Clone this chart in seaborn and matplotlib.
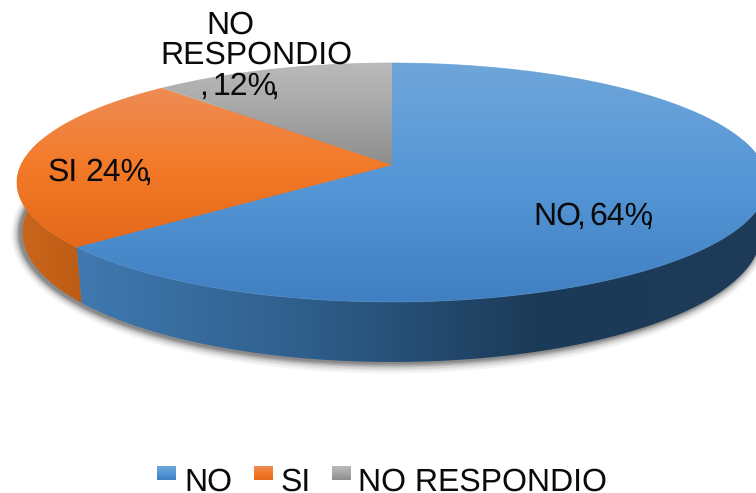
import numpy as np
import matplotlib
matplotlib.use('Agg')
import matplotlib.pyplot as plt
import seaborn as sns

categories = ['NO', 'SI', 'NO RESPONDIO']
shares = [64, 24, 12]

# colores de cada porcion: arriba -> abajo
top_stops = [['#6fa6da', '#5596d6', '#4080c2'],
             ['#ee8c56', '#f37a28', '#e4691a'],
             ['#bababa', '#a6a6a6', '#8e8e8e']]
# paredes: izquierda -> derecha
wall_stops = [['#4079b0', '#2f5e8b', '#1b3a57', '#1e3c5a'],
              ['#cc661c', '#bc5c14']]

sns.set_theme(style='white')
plt.rcParams['font.family'] = ['Liberation Sans', 'DejaVu Sans']
plt.rcParams['text.hinting'] = 'none'

fig = plt.figure(figsize=(7.56, 4.93), dpi=100)
ax = fig.add_axes([0, 0, 1, 1])

cx, cy = 392, 165      # vertice de la torta
bx, ay, k = 371, 116.9, 0.1464   # perspectiva
bottom_scale = 0.985


def rim(a0, a1):
    t = np.radians(np.linspace(a0, a1, 400))
    u, v = np.cos(t), np.sin(t)
    d = 1 + k * v
    return cx + bx * u / d, cy - ay * v / d


def lower_rim(a0, a1):
    # borde inferior de la pared, mas alta adelante que a los lados
    xs, ys = rim(a0, a1)
    v = np.sin(np.radians(np.linspace(a0, a1, 400)))
    return cx + (xs - cx) * bottom_scale, ys + 48 - 12 * v


def paint(xs, ys, stops, z, horizontal=False):
    patch = ax.fill(xs, ys, facecolor='none', edgecolor='none', zorder=z)[0]
    cmap = sns.blend_palette(stops, n_colors=256, as_cmap=True)
    ramp = np.linspace(0, 1, 256)
    if horizontal:
        img = ax.imshow(ramp.reshape(1, -1), cmap=cmap, aspect='auto', zorder=z,
                        extent=(xs.min(), xs.max(), 493, 0))
    else:
        img = ax.imshow(ramp.reshape(-1, 1), cmap=cmap, aspect='auto', zorder=z,
                        extent=(0, 756, ys.max(), ys.min()))
    img.set_clip_path(patch)


# angulos de cada porcion, en sentido horario desde arriba
edges = 90 - 3.6 * np.cumsum([0] + shares)

# sombra
sx0, sy0 = lower_rim(0, 360)
for grow, alpha in zip([9, 7, 5.5, 4, 3, 2, 1], [.05, .07, .09, .12, .14, .16, .18]):
    ax.fill(sx0 + grow * (sx0 - cx) / 375 - 2.5,
            sy0 + grow * (sy0 - sy0.mean()) / 120 + 1,
            color='#3a3a3a', alpha=alpha, lw=0, zorder=1)

# paredes laterales
wall_spans = [(12, edges[1]), (edges[1], -192)]
for (a0, a1), stops in zip(wall_spans, wall_stops):
    xs, ys = rim(a0, a1)
    low_x, low_y = lower_rim(a0, a1)
    paint(np.r_[xs, low_x[::-1]], np.r_[ys, low_y[::-1]], stops, 2, horizontal=True)

# cara superior
for i in range(len(shares)):
    xs, ys = rim(edges[i], edges[i + 1])
    paint(np.r_[cx, xs], np.r_[cy, ys], top_stops[i], 3)
    ax.plot(xs, ys, color=top_stops[i][1], lw=0.6, alpha=0.6, zorder=3)

# etiquetas (las comas van pegadas como en el original)
fs = 23
for txt, x, y in [('NO', 533, 225), (',', 576, 225), ('%d%%' % shares[0], 589, 225), (',', 644, 225),
                  ('SI', 48, 181), ('%d%%' % shares[1], 85, 181), (',', 143, 181),
                  ('NO', 206, 34), ('RESPONDIO', 160, 64),
                  (',', 199, 95), ('%d%%' % shares[2], 213, 95), (',', 270, 95)]:
    ax.text(x, y, txt, fontsize=fs, color='#0a0a0a', ha='left', va='baseline', zorder=5)

# leyenda
swatch_x = [157, 254, 332]
label_x = [184, 281, 358]
for i, name in enumerate(categories):
    xs = np.array([swatch_x[i], swatch_x[i] + 19, swatch_x[i] + 19, swatch_x[i]])
    ys = np.array([466, 466, 480, 480])
    paint(xs, ys, top_stops[i], 4)
    ax.text(label_x[i], 491, name, fontsize=fs, color='#0a0a0a', ha='left', va='baseline', zorder=5)

ax.set_xlim(0, 756)
ax.set_ylim(493, 0)
ax.set_axis_off()
fig.savefig('out.png', dpi=100)
